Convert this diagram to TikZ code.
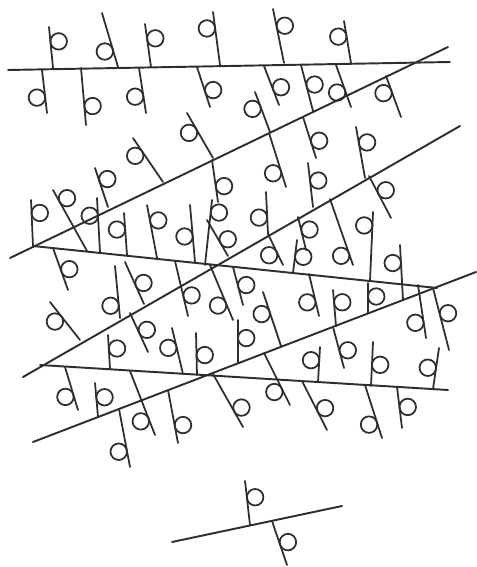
\documentclass[tikz,border=0pt]{standalone}
\usepackage{tikz}
\usetikzlibrary{calc}
\definecolor{InkGray}{HTML}{2E2E2E}
\tikzset{
  strand/.style={draw=InkGray,line width=1.1pt,line cap=round},
  stalk/.style={draw=InkGray,line width=1pt,line cap=round},
  curl/.style={draw=InkGray,line width=1pt},
}

\begin{document}
\begin{tikzpicture}[x=0.02cm,y=-0.02cm]
  \useasboundingbox (0,0) rectangle (476,567);

  % long strands
  \coordinate (a1) at (8,70);   \coordinate (a2) at (450,62);
  \coordinate (b1) at (10,258); \coordinate (b2) at (448,47);
  \coordinate (c1) at (23,377); \coordinate (c2) at (460,126);
  \coordinate (d1) at (33,246); \coordinate (d2) at (437,288);
  \coordinate (e1) at (33,442); \coordinate (e2) at (476,272);
  \coordinate (f1) at (40,365); \coordinate (f2) at (448,390);
  \coordinate (g1) at (172,542); \coordinate (g2) at (342,506);

  \draw[strand] (a1) -- (a2);
  \draw[strand] (b1) -- (b2);
  \draw[strand] (c1) -- (c2);
  \draw[strand] (d1) -- (d2);
  \draw[strand] (e1) -- (e2);
  \draw[strand] (f1) -- (f2);
  \draw[strand] (g1) -- (g2);

  % stalks: base / tip / where the curl sits / side
  \foreach \bx/\by/\tx/\ty/\t/\a in {
    53/68/49/27/0.63/-90, 118/67/102/13/0.33/90, 151/67/145/24/0.64/-90,
    220/65/213/12/0.71/90, 284/63/273/9/0.66/-90, 351/63/344/21/0.66/90,
    42/70/47/113/0.62/-90, 81/68/86/125/0.68/90, 139/68/146/113/0.61/-90,
    197/67/210/107/0.64/90, 264/66/279/105/0.62/90, 301/65/313/111/0.47/90,
    336/65/351/107/0.59/-90, 386/76/401/117/0.35/-90,
    213/158/187/113/0.65/90, 163/182/133/138/0.70/90, 108/207/95/168/0.65/-90,
    270/132/255/92/0.65/90, 303/117/316/158/0.64/90, 269/133/286/187/0.70/-90,
    365/178/356/127/0.67/-90, 369/176/391/218/0.43/90, 313/207/308/163/0.58/-90,
    268/234/266/192/0.40/90, 298/217/306/250/0.44/90, 268/234/283/265/0.57/-90,
    293/273/297/240/0.52/-90, 330/199/353/265/0.82/-90, 370/281/373/212/0.80/90,
    403/300/400/245/0.68/90,
    33/246/31/200/0.71/-90, 87/251/53/190/0.80/-90, 100/252/97/198/0.68/90,
    127/255/124/213/0.62/90, 157/258/147/205/0.68/-90, 195/262/190/205/0.46/90,
    212/160/218/202/0.65/90, 205/265/212/200/0.82/-90, 207/220/228/256/0.65/90,
    53/248/68/290/0.57/90,
    80/340/50/302/0.62/90, 120/318/115/266/0.25/90, 144/304/125/262/0.42/-90,
    175/261/188/316/0.66/90, 210/265/233/320/0.68/-90, 130/313/148/352/0.52/90,
    110/369/108/335/0.59/-90, 183/374/172/328/0.61/90, 197/375/196/333/0.47/-90,
    233/267/243/305/0.53/90, 281/346/263/292/0.64/90, 238/363/238/320/0.58/-90,
    309/274/319/316/0.63/-90, 336/326/333/290/0.64/-90, 368/313/368/283/0.55/-90,
    418/285/426/338/0.69/-90, 433/288/449/350/0.44/90, 318/382/320/347/0.61/90,
    333/327/344/368/0.62/90, 371/386/373/342/0.49/-90, 433/389/439/348/0.49/90,
    264/353/290/405/0.68/-90,
    65/367/78/410/0.64/-90, 98/417/95/383/0.56/-90, 130/371/155/435/0.74/-90,
    168/390/178/443/0.69/90, 119/409/130/467/0.71/-90, 213/374/243/427/0.71/90,
    302/381/327/430/0.63/90, 365/385/382/438/0.70/-90, 397/387/402/428/0.51/90,
    250/525/245/481/0.61/-90, 272/521/287/565/0.54/90} {
    \draw[stalk] (\bx,\by) -- (\tx,\ty);
    \draw[curl] ($(\bx,\by)!\t!(\tx,\ty)!0.165cm!\a:(\tx,\ty)$) circle[radius=0.165cm];
  }
\end{tikzpicture}
\end{document}
